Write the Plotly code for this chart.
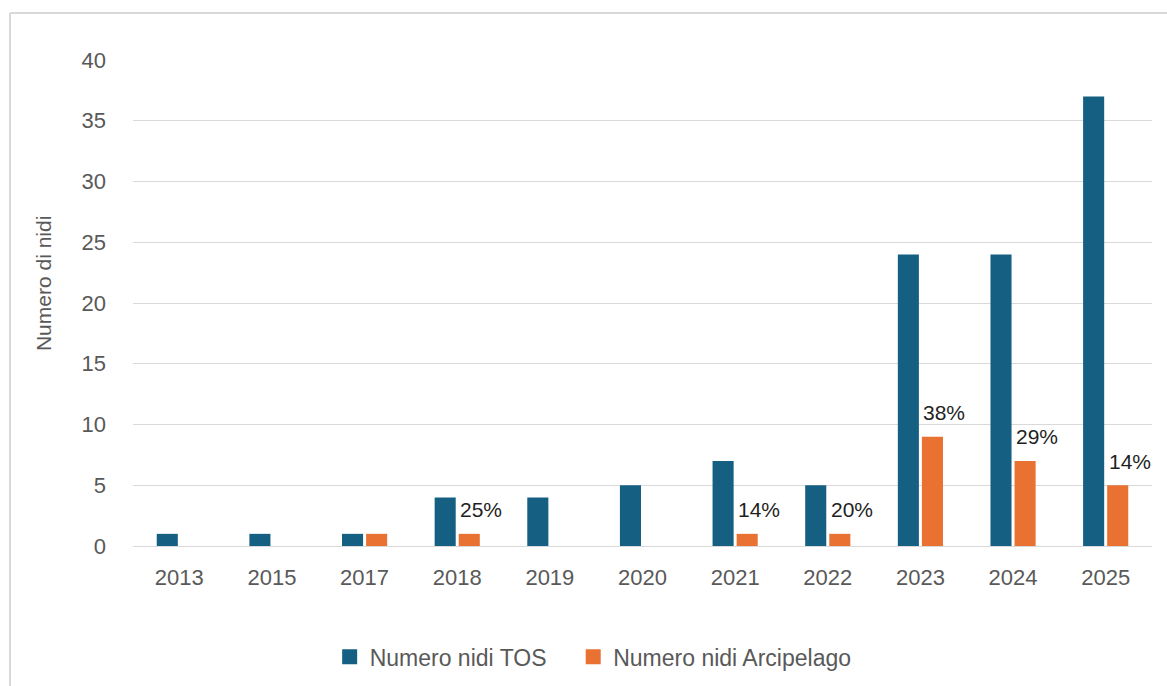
import plotly.graph_objects as go

years = ["2013", "2015", "2017", "2018", "2019", "2020", "2021", "2022", "2023", "2024", "2025"]
nidi_tos = [1, 1, 1, 4, 4, 5, 7, 5, 24, 24, 37]
nidi_arcipelago = [0, 0, 1, 1, 0, 0, 1, 1, 9, 7, 5]
pct_labels = ["", "", "", "25%", "", "", "14%", "20%", "38%", "29%", "14%"]
series_names = ["Numero nidi TOS", "Numero nidi Arcipelago"]

BLUE = "#156082"
ORANGE = "#E97132"
FONT = "Liberation Sans, Arial, sans-serif"

fig = go.Figure()
fig.add_trace(go.Bar(x=years, y=nidi_tos, name=series_names[0], showlegend=False,
                     marker=dict(color=BLUE, line=dict(width=0))))
fig.add_trace(go.Bar(x=years, y=nidi_arcipelago, name=series_names[1], showlegend=False,
                     marker=dict(color=ORANGE, line=dict(width=0))))
# legend entries with larger square swatches, each in its own legend box
for nm, col, lg in zip(series_names, [BLUE, ORANGE], ["legend", "legend2"]):
    fig.add_trace(go.Scatter(x=[None], y=[None], mode="markers", name=nm,
                             marker=dict(symbol="square", size=15, color=col),
                             showlegend=True, legend=lg))

for i, (v, lab) in enumerate(zip(nidi_arcipelago, pct_labels)):
    if lab:
        fig.add_annotation(x=i, y=v, xref="x", yref="y", text=lab, showarrow=False,
                           xanchor="center", yanchor="middle",
                           xshift=24, yshift=24,
                           font=dict(family=FONT, size=21, color="#1f1f1f"))

# Y-axis title
fig.add_annotation(x=-0.0883, y=0.539, xref="paper", yref="paper",
                   text="Numero di nidi", textangle=-90, showarrow=False,
                   xanchor="center", yanchor="middle",
                   font=dict(family=FONT, size=21, color="#595959"))

# chart-area border (left and top visible)
fig.add_shape(type="line", xref="paper", yref="paper",
              x0=-0.1207, x1=-0.1207, y0=-0.3, y1=1.0967,
              line=dict(color="#d9d9d9", width=2))
fig.add_shape(type="line", xref="paper", yref="paper",
              x0=-0.1207, x1=1.02, y0=1.0967, y1=1.0967,
              line=dict(color="#d9d9d9", width=2))

legend_common = dict(orientation="h", xanchor="left", y=-0.228, yanchor="middle",
                     font=dict(family=FONT, size=23, color="#595959"),
                     itemwidth=30, bgcolor="rgba(0,0,0,0)")

fig.update_layout(
    width=1167, height=686,
    margin=dict(l=133, r=15, t=60, b=140, autoexpand=False),
    paper_bgcolor="white", plot_bgcolor="white",
    barmode="group", bargap=0.48, bargroupgap=0.125,
    font=dict(family=FONT, size=22, color="#595959"),
    showlegend=True,
    legend=dict(x=0.193, **legend_common),
    legend2=dict(x=0.432, **legend_common),
    xaxis=dict(type="category", range=[-0.5, len(years) - 0.5], autorange=False,
               showgrid=False, showline=False, ticks="",
               tickfont=dict(family=FONT, size=22, color="#595959"),
               ticklabelstandoff=16),
    yaxis=dict(range=[0, 40], autorange=False, dtick=5, showgrid=True,
               gridcolor="#d9d9d9", gridwidth=1,
               zeroline=True, zerolinecolor="#d9d9d9", zerolinewidth=1,
               showline=False, ticks="",
               tickfont=dict(family=FONT, size=22, color="#595959"),
               ticklabelstandoff=26),
)

fig.write_html("out.html")
